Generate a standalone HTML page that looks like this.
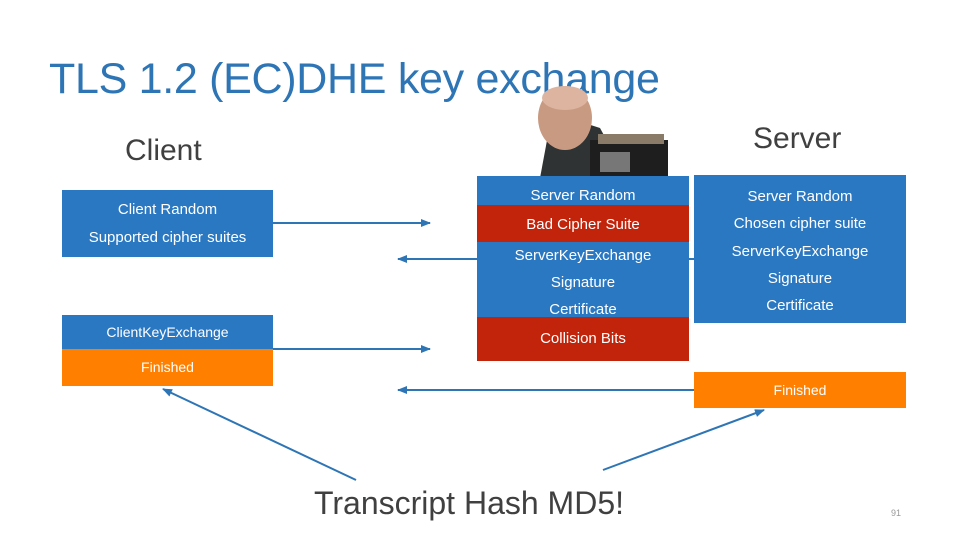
<!DOCTYPE html>
<html><head><meta charset="utf-8"><style>
body{margin:0;width:960px;height:540px;background:#fff;position:relative;overflow:hidden;font-family:"Liberation Sans",sans-serif}
.a{position:absolute}
.b{position:absolute;color:#fff;text-align:center;font-size:15px}
.blue{background:#2b78c2}.red{background:#c1240b}.org{background:#ff7f00}
</style></head><body>
<div class="a" style="left:49px;top:55px;font-size:43px;color:#2e75b6;letter-spacing:-0.3px">TLS 1.2 (EC)DHE key exchange</div>
<div class="a" style="left:125px;top:134px;font-size:30px;color:#404040">Client</div>
<div class="a" style="left:753px;top:122px;font-size:30px;color:#404040">Server</div>

<svg class="a" style="left:0;top:0" width="960" height="540">
<defs><marker id="m" markerWidth="10" markerHeight="8" refX="9" refY="4" orient="auto" markerUnits="userSpaceOnUse"><path d="M0,0L10,4L0,8z" fill="#2e75b6"/></marker></defs>
<g stroke="#2e75b6" stroke-width="2" fill="none" marker-end="url(#m)">
<line x1="273" y1="223" x2="430" y2="223"/>
<line x1="694" y1="259" x2="398" y2="259"/>
<line x1="273" y1="349" x2="430" y2="349"/>
<line x1="694" y1="390" x2="398" y2="390"/>
<line x1="356" y1="480" x2="163" y2="389"/>
<line x1="603" y1="470" x2="764" y2="410"/>
</g>
<path d="M540,178 L548,135 L575,120 L600,128 L612,150 L612,178z" fill="#2f3333"/>
<ellipse cx="565" cy="118" rx="27" ry="32" fill="#c99a82"/>
<ellipse cx="565" cy="98" rx="23" ry="12" fill="#dcb4a0"/>
<rect x="590" y="140" width="78" height="38" fill="#1e1e1e"/>
<rect x="598" y="134" width="66" height="10" fill="#8a7a68"/>
<rect x="600" y="152" width="30" height="20" fill="#777"/>
</svg>

<div class="b blue" style="left:62px;top:190px;width:211px;height:67px;line-height:28px;padding-top:6px;box-sizing:border-box">Client Random<br>Supported cipher suites</div>
<div class="b blue" style="left:62px;top:315px;width:211px;height:34px;line-height:34px;font-size:14px">ClientKeyExchange</div>
<div class="b org" style="left:62px;top:349px;width:211px;height:37px;line-height:37px;font-size:14px">Finished</div>

<div class="b blue" style="left:477px;top:176px;width:212px;height:29px;line-height:40px">Server Random</div>
<div class="b red" style="left:477px;top:205px;width:212px;height:37px;line-height:40px">Bad Cipher Suite</div>
<div class="b blue" style="left:477px;top:242px;width:212px;height:75px;line-height:27px">ServerKeyExchange<br>Signature<br>Certificate</div>
<div class="b red" style="left:477px;top:317px;width:212px;height:44px;line-height:44px">Collision Bits</div>

<div class="b blue" style="left:694px;top:175px;width:212px;height:148px;line-height:27.3px;padding-top:8px;box-sizing:border-box">Server Random<br>Chosen cipher suite<br>ServerKeyExchange<br>Signature<br>Certificate</div>
<div class="b org" style="left:694px;top:372px;width:212px;height:36px;line-height:36px;font-size:14px">Finished</div>

<div class="a" style="left:314px;top:485px;font-size:32px;color:#404040">Transcript Hash MD5!</div>
<div class="a" style="left:891px;top:508px;font-size:9px;color:#999">91</div>
</body></html>
